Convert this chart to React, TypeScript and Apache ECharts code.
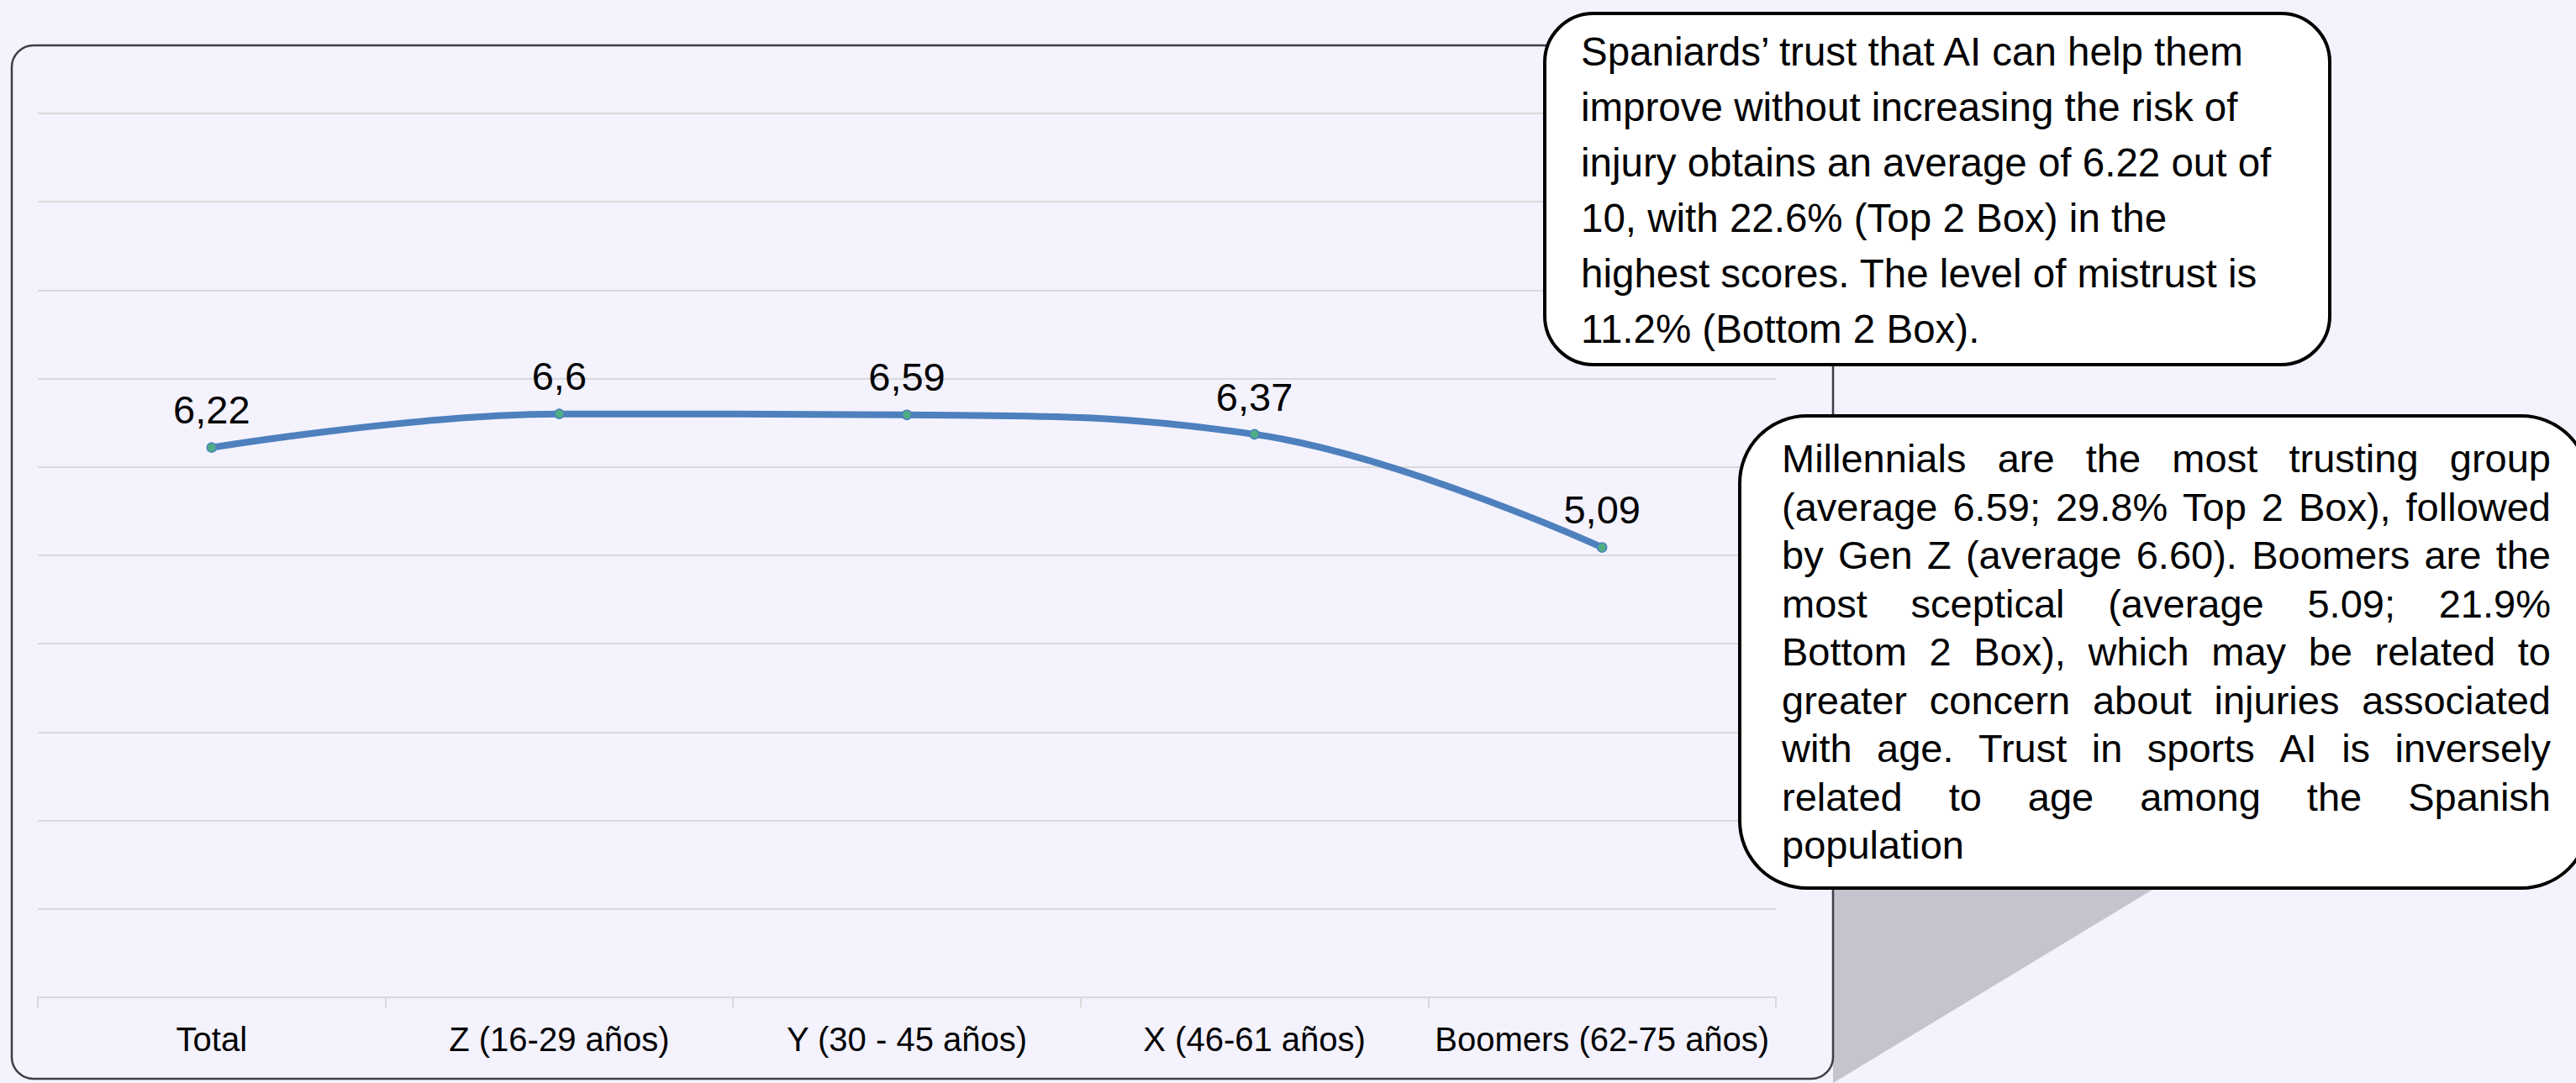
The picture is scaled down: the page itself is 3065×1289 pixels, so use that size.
import React, { useEffect, useRef } from 'react';
import * as echarts from 'echarts';

const categories = ['Total', 'Z (16-29 años)', 'Y (30 - 45 años)', 'X (46-61 años)', 'Boomers (62-75 años)'];
const values = [6.22, 6.6, 6.59, 6.37, 5.09];
const yMin = 0;
const yMax = 10;
const yInterval = 1;

const box1Lines = [
  'Spaniards’ trust that AI can help them',
  'improve without increasing the risk of',
  'injury obtains an average of 6.22 out of',
  '10, with 22.6% (Top 2 Box) in the',
  'highest scores. The level of mistrust is',
  '11.2% (Bottom 2 Box).',
];

const box2Lines = [
  'Millennials are the most trusting group',
  '(average 6.59; 29.8% Top 2 Box), followed',
  'by Gen Z (average 6.60). Boomers are the',
  'most sceptical (average 5.09; 21.9%',
  'Bottom 2 Box), which may be related to',
  'greater concern about injuries associated',
  'with age. Trust in sports AI is inversely',
  'related to age among the Spanish',
  'population',
];

const W = 3065;
const H = 1289;
const FONT = '"Liberation Sans", Arial, Helvetica, sans-serif';
const BG = '#f3f2fd';

let ctx: CanvasRenderingContext2D | null = null;
function measure(text: string, size: number): number {
  if (!ctx) {
    const c = document.createElement('canvas');
    ctx = c.getContext('2d');
  }
  if (!ctx) return text.length * size * 0.5;
  ctx.font = `${size}px "Liberation Sans", Arial, sans-serif`;
  return ctx.measureText(text).width;
}

function textEl(text: string, x: number, baseline: number, size: number, z: number) {
  return {
    type: 'text',
    z,
    x,
    y: baseline - size * 0.35,
    style: {
      text,
      fontSize: size,
      fontFamily: FONT,
      fill: '#000000',
      align: 'left',
      verticalAlign: 'middle',
    },
  };
}

function buildBox1Text() {
  const size = 47.5;
  const left = 1881;
  const base0 = 78;
  const step = 66;
  return box1Lines.map((l, i) => textEl(l, left, base0 + i * step, size, 60));
}

function buildBox2Text() {
  const size = 47;
  const left = 2120;
  const right = 3035;
  const base0 = 562;
  const step = 57.5;
  const els: any[] = [];
  box2Lines.forEach((line, i) => {
    const baseline = base0 + i * step;
    const words = line.split(' ');
    if (i === box2Lines.length - 1 || words.length < 2) {
      els.push(textEl(line, left, baseline, size, 60));
      return;
    }
    const widths = words.map((w) => measure(w, size));
    const sum = widths.reduce((a, b) => a + b, 0);
    const gap = (right - left - sum) / (words.length - 1);
    let x = left;
    words.forEach((w, k) => {
      els.push(textEl(w, x, baseline, size, 60));
      x += widths[k] + gap;
    });
  });
  return els;
}

export default function App() {
  const ref = useRef<HTMLDivElement>(null);

  useEffect(() => {
    document.body.style.margin = '0';
    document.body.style.background = BG;
    if (!ref.current) return;
    const chart = echarts.init(ref.current, undefined, { renderer: 'svg' });

    const graphic: any[] = [
      {
        type: 'polygon',
        z: 1,
        shape: { points: [[2181, 1056], [2566, 1056], [2181, 1289]] },
        style: { fill: '#c4c3ce' },
      },
      {
        type: 'rect',
        z: 2,
        shape: { x: 14, y: 54, width: 2167, height: 1230, r: 26 },
        style: { fill: 'none', stroke: '#3f3f46', lineWidth: 2.5 },
      },
      {
        type: 'rect',
        z: 50,
        shape: { x: 1838, y: 16, width: 934, height: 418, r: 58 },
        style: { fill: '#ffffff', stroke: '#000000', lineWidth: 4 },
      },
      {
        type: 'rect',
        z: 50,
        shape: { x: 2070, y: 495, width: 1010, height: 562, r: 80 },
        style: { fill: '#ffffff', stroke: '#000000', lineWidth: 4 },
      },
      ...buildBox1Text(),
      ...buildBox2Text(),
    ];

    chart.setOption({
      animation: false,
      backgroundColor: BG,
      grid: { left: 45, right: W - 2113, top: 135, bottom: H - 1187, containLabel: false },
      xAxis: {
        type: 'category',
        data: categories,
        boundaryGap: true,
        axisLine: { show: true, lineStyle: { color: '#d9d9d9', width: 2 } },
        axisTick: { show: true, length: 12, lineStyle: { color: '#d9d9d9', width: 2 } },
        axisLabel: {
          interval: 0,
          margin: 30,
          fontSize: 40,
          fontFamily: FONT,
          color: '#000000',
        },
        splitLine: { show: false },
      },
      yAxis: {
        type: 'value',
        min: yMin,
        max: yMax,
        interval: yInterval,
        axisLine: { show: false },
        axisTick: { show: false },
        axisLabel: { show: false },
        splitLine: { show: true, lineStyle: { color: '#d9d9d9', width: 2 } },
      },
      series: [
        {
          type: 'line',
          data: values,
          smooth: 0.4,
          symbol: 'circle',
          symbolSize: 11,
          lineStyle: { color: '#4e80bd', width: 8 },
          itemStyle: { color: '#4fae84', borderColor: '#4e80bd', borderWidth: 1.5 },
          label: {
            show: true,
            position: 'top',
            distance: 15,
            fontSize: 47,
            fontFamily: FONT,
            color: '#000000',
            formatter: (p: any) => String(p.value).replace('.', ','),
          },
          z: 3,
        },
      ],
      graphic,
    });

    return () => chart.dispose();
  }, []);

  return (
    <div
      ref={ref}
      style={{ position: 'fixed', left: 0, top: 0, width: W, height: H }}
    />
  );
}
